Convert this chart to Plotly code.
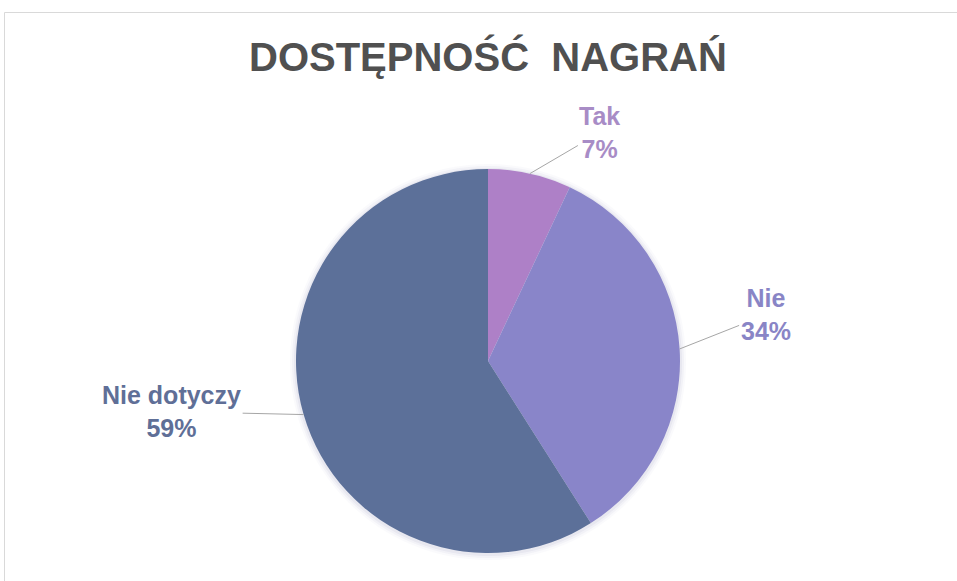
import math
import plotly.graph_objects as go

# ---- data ----
labels = ["Tak", "Nie", "Nie dotyczy"]
values = [7, 34, 59]
title_text = "DOSTĘPNOŚĆ  NAGRAŃ"

# ---- styles ----
slice_colors = ["#AE80C7", "#8985C9", "#5C7099"]
label_colors = ["#A88CC6", "#8985C6", "#5F6F97"]
label_offsets = [(70, -41), (86, -34), (-132, -3)]  # pixel offsets of label boxes

W, H = 957, 581
CX, CY, R = 488, 361, 192

fig = go.Figure()
fig.add_trace(go.Pie(
    labels=labels,
    values=values,
    sort=False,
    direction="clockwise",
    rotation=0,
    marker=dict(colors=slice_colors, line=dict(width=0)),
    textinfo="none",
    hoverinfo="label+percent",
    showlegend=False,
    domain=dict(x=[(CX - R) / W, (CX + R) / W], y=[(H - CY - R) / H, (H - CY + R) / H]),
))

total = sum(values)
cum = 0
annotations = []
for lab, v, col, (ax, ay) in zip(labels, values, label_colors, label_offsets):
    mid = (cum + v / 2) / total * 2 * math.pi
    cum += v
    px = CX + R * math.sin(mid)
    py = CY - R * math.cos(mid)
    pct = round(v / total * 100)
    annotations.append(dict(
        x=px / W, y=1 - py / H, xref="paper", yref="paper",
        text=f"{lab}<br>{pct}%",
        showarrow=True, arrowhead=0, arrowwidth=1, arrowcolor="#A6A6A6",
        ax=ax, ay=ay, standoff=0,
        font=dict(family="Liberation Sans, Arial", size=25, color=col, weight="bold"),
        align="center",
    ))

annotations.append(dict(
    x=CX / W, y=1 - 57 / H, xref="paper", yref="paper",
    text=title_text, showarrow=False,
    xanchor="center", yanchor="middle",
    font=dict(family="Liberation Sans, Arial", size=40, color="#505050", weight="bold"),
))

shapes = [
    dict(type="rect", xref="paper", yref="paper",
         x0=4.5 / W, x1=1.02, y0=-0.02, y1=1 - 12.5 / H,
         line=dict(color="#D9D9D9", width=1), fillcolor="rgba(0,0,0,0)", layer="below"),
]
# soft shadow around the pie
for i, a in enumerate([0.04, 0.06, 0.08]):
    rr = R + 6 - 2 * i
    shapes.append(dict(type="circle", xref="paper", yref="paper",
                       x0=(CX - rr) / W, x1=(CX + rr) / W,
                       y0=1 - (CY + rr + 1) / H, y1=1 - (CY - rr + 1) / H,
                       line=dict(width=0), fillcolor=f"rgba(120,120,170,{a})", layer="below"))

fig.update_layout(
    width=W, height=H, autosize=False,
    margin=dict(l=0, r=0, t=0, b=0),
    paper_bgcolor="white", plot_bgcolor="white",
    annotations=annotations, shapes=shapes,
)

fig.write_html("out.html", config={"displayModeBar": False},
               post_script="document.body.style.margin='0px';")
